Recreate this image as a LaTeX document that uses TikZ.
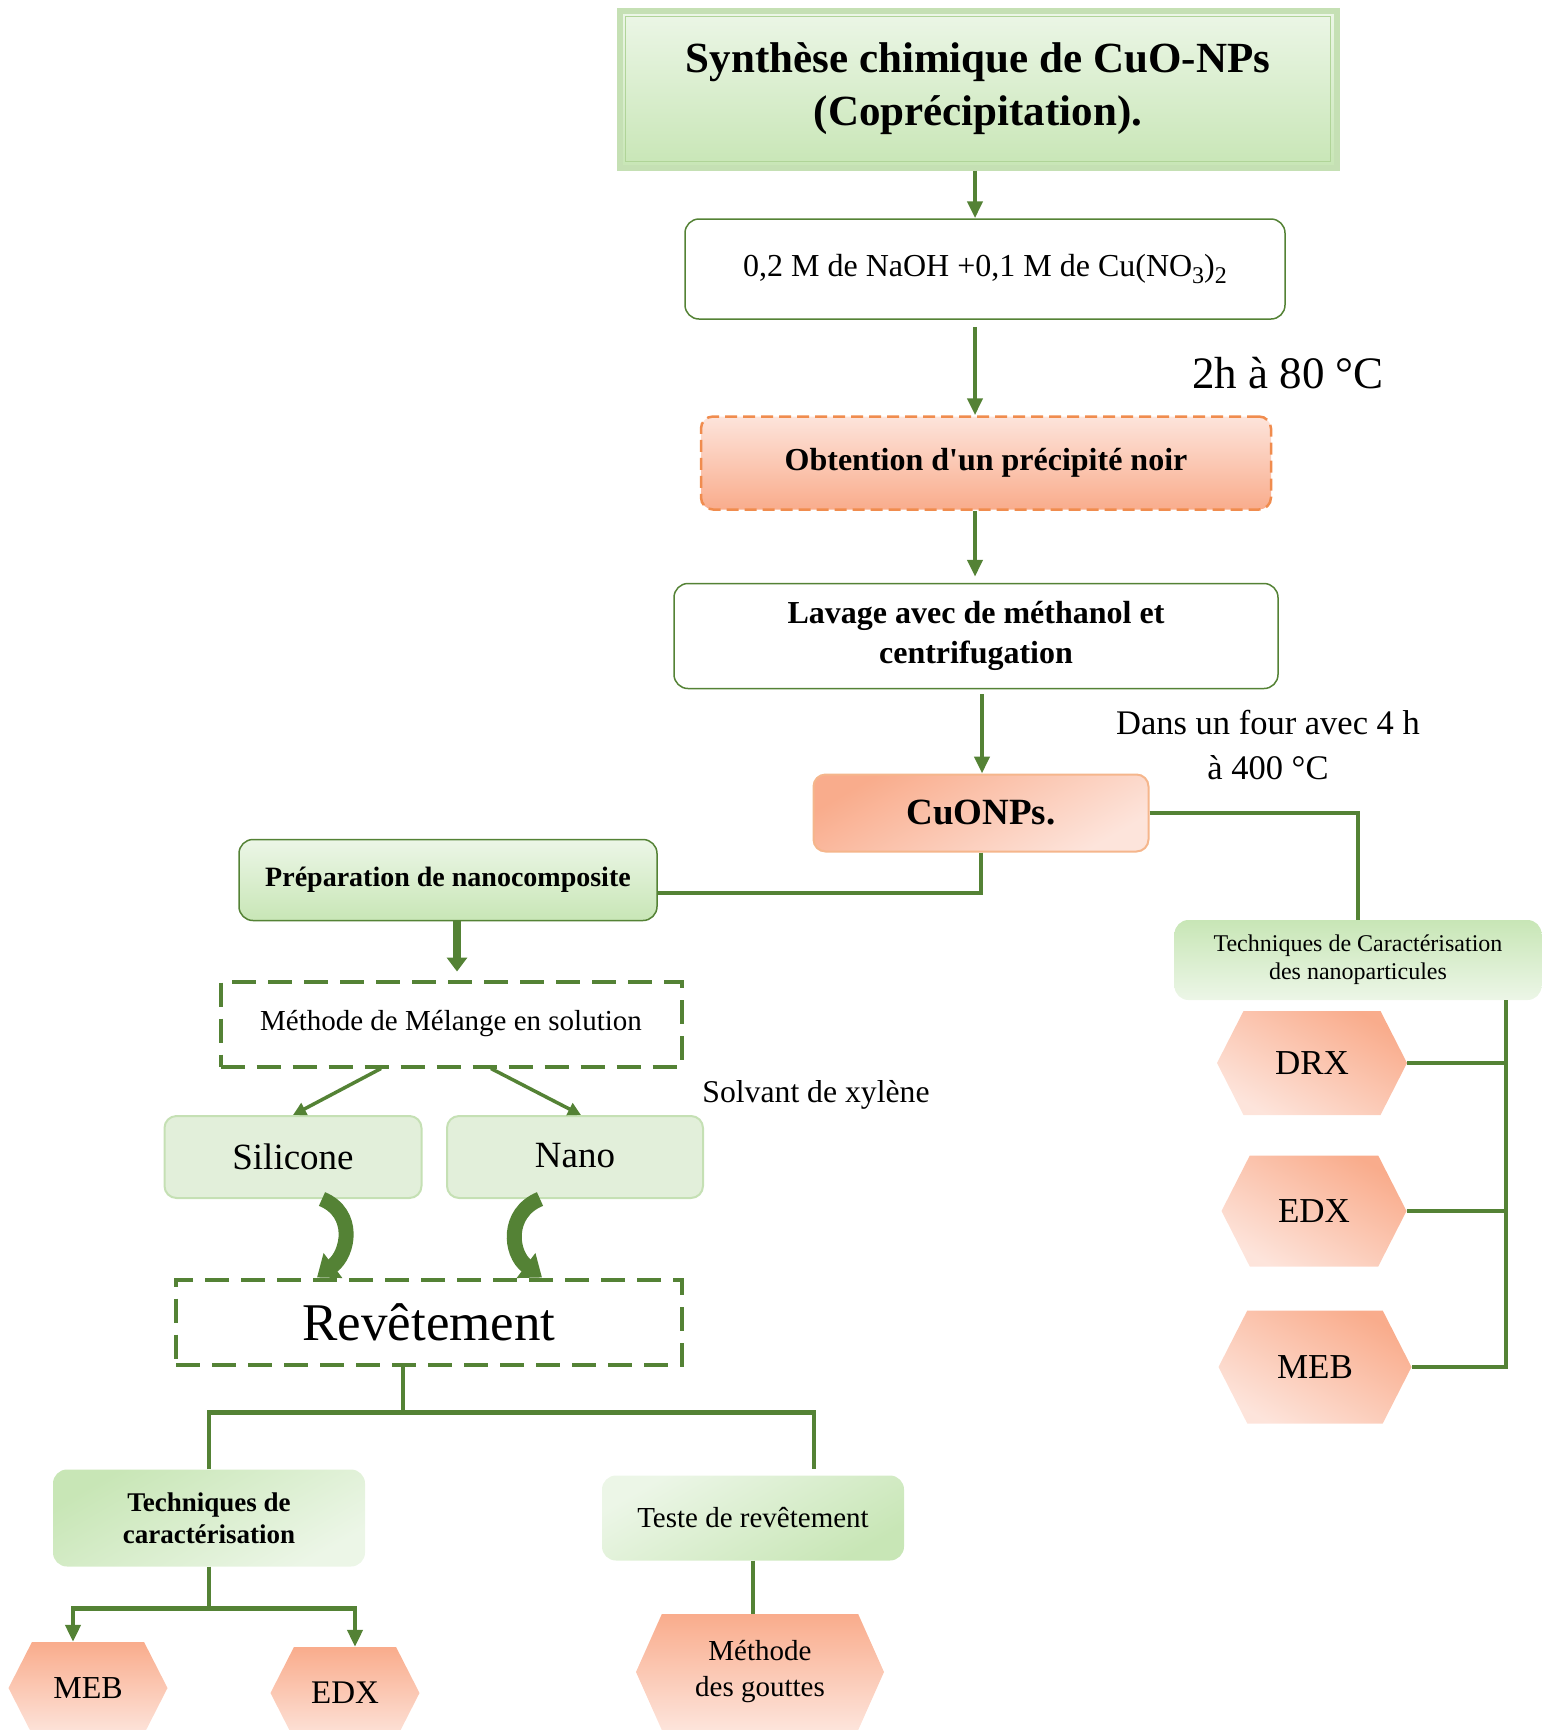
\documentclass[tikz,border=0pt]{standalone}
\usepackage{fontspec}
\setmainfont{Liberation Serif}
\usetikzlibrary{arrows.meta,positioning,shapes.symbols}

\definecolor{grn}{RGB}{84,130,53}
\definecolor{gB}{RGB}{197,224,180}
\definecolor{gB2}{RGB}{176,212,152}
\definecolor{gD}{RGB}{200,230,182}
\definecolor{gL}{RGB}{236,246,231}
\definecolor{gS}{RGB}{226,239,218}
\definecolor{oD}{RGB}{249,172,140}
\definecolor{oL}{RGB}{253,228,219}
\definecolor{oB}{RGB}{240,140,78}
\definecolor{oB2}{RGB}{245,182,140}

\begin{document}
\begin{tikzpicture}[x=1pt, y=-1pt,
  every node/.style={inner sep=0pt, align=center},
  line/.style={draw=grn, line width=4.5pt},
  arr/.style={line, -{Triangle[width=15pt,length=17pt]}},
  thinarr/.style={draw=grn, line width=3.5pt, -{Triangle[width=13pt,length=13pt]}},
  curly/.style={draw=grn, line width=15pt, -{Triangle[width=30pt,length=20pt]}},
  wbox/.style={draw=grn, line width=1.5pt, rounded corners=14pt, fill=white},
  gbox/.style={rounded corners=14pt, top color=gL, bottom color=gD},
  obox/.style={rounded corners=12pt, top color=oL, bottom color=oD},
  dbox/.style={draw=grn, line width=4pt, dash pattern=on 24pt off 12pt},
  hexa/.style={signal, signal to=west and east, signal pointer angle=126,
               top color=oD, bottom color=oL, shading angle=-30},
]
\useasboundingbox (0,0) rectangle (1542,1730);

% synthese
\node[minimum width=717, minimum height=157, top color=gL, bottom color=gD,
      draw=gB, line width=6pt, font=\bfseries\fontsize{43}{53}\selectfont]
  (title) at (978,89) {Synthèse chimique de CuO-NPs\\(Coprécipitation).};
\draw[gB2, line width=1.5pt] ([shift={(9,9)}]title.north west)
  rectangle ([shift={(-9,-9)}]title.south east);

\node[wbox, minimum width=600, minimum height=100,
      font=\fontsize{32}{38}\selectfont]
  (sol) at (985,269) {0,2 M de NaOH +0,1 M de Cu(NO\raisebox{-7pt}{\fontsize{24}{24}\selectfont 3})\raisebox{-7pt}{\fontsize{24}{24}\selectfont 2}};
\node[font=\fontsize{45}{54}\selectfont] (t80) at (1288,373) {2h à 80 °C};

\node[obox, draw=oB, line width=2.5pt, dash pattern=on 12pt off 6pt,
      minimum width=570, minimum height=93,
      font=\bfseries\fontsize{32}{38}\selectfont]
  (prec) at (986,463) {Obtention d\textquotesingle un précipité noir};

\node[wbox, minimum width=604, minimum height=105,
      font=\bfseries\fontsize{32}{40}\selectfont]
  (lav) at (976,636) {Lavage avec de méthanol et\\centrifugation};

\node[font=\fontsize{34.5}{45}\selectfont] (four) at (1268,745)
  {Dans un four avec 4 h\\à 400 °C};

\node[rounded corners=12pt, draw=oB2, line width=2pt, top color=oD, bottom color=oL,
      shading angle=30, minimum width=335, minimum height=77,
      font=\bfseries\fontsize{37}{44}\selectfont]
  (cuo) at (981,813) {CuONPs.};

\coordinate (ax) at (975,0);
\draw[arr] (ax |- title.south) -- (ax |- sol.north);
\draw[arr, shorten <=7pt] (ax |- sol.south) -- (ax |- prec.north);
\draw[arr, shorten >=6pt] (ax |- prec.south) -- (ax |- lav.north);
\draw[arr, shorten <=5pt] ([xshift=6]lav.south) -- ([xshift=1]cuo.north);

% caracterisation des nanoparticules
\node[gbox, top color=gD, bottom color=gL, minimum width=367, minimum height=80,
      font=\fontsize{24}{28}\selectfont]
  (tnp) at (1358,960) {Techniques de Caractérisation\\des nanoparticules};
\node[hexa, minimum width=190, minimum height=104, font=\fontsize{35}{42}\selectfont]
  (drx) at (1312,1063) {DRX};
\node[hexa, minimum width=185, minimum height=111, font=\fontsize{35}{42}\selectfont]
  (edx2) at (1314,1211) {EDX};
\node[hexa, minimum width=193, minimum height=113, font=\fontsize{35}{42}\selectfont]
  (meb2) at (1315,1367) {MEB};
\coordinate (rb) at (1506,1000);

\draw[line] (cuo.east) -| (tnp.north);
\draw[line] (rb) |- (meb2.east);
\draw[line] (drx.east) -- (drx.east -| rb);
\draw[line] (edx2.east) -- (edx2.east -| rb);

% nanocomposite
\node[gbox, draw=grn, line width=1.5pt, minimum width=418, minimum height=81,
      font=\bfseries\fontsize{28}{34}\selectfont]
  (prep) at (448,880) {Préparation de nanocomposite};
\draw[line] (cuo.south) |- ([yshift=-13]prep.east);

\node[dbox, minimum width=461, minimum height=85, font=\fontsize{29}{35}\selectfont]
  (mel) at (451,1024) {Méthode de Mélange en solution};
\draw[draw=grn, line width=8pt, -{Triangle[width=20pt,length=14pt]}, shorten >=8pt]
  ([xshift=9]prep.south) -- ([xshift=6]mel.north);

\node[font=\fontsize{31.7}{38}\selectfont] (xyl) at (816,1095) {Solvant de xylène};

\node[rounded corners=12pt, fill=gS, draw=gB, line width=2pt,
      minimum width=257, minimum height=82, font=\fontsize{37}{44}\selectfont]
  (sil) at (293,1157) {Silicone};
\node[rounded corners=12pt, fill=gS, draw=gB, line width=2pt,
      minimum width=256, minimum height=82, font=\fontsize{37}{44}\selectfont]
  (nano) at (575,1157) {\raisebox{4pt}{Nano}};

\draw[thinarr] ([xshift=-70]mel.south) -- (sil.north);
\draw[thinarr] ([xshift=40]mel.south) -- ([xshift=6]nano.north);

\node[dbox, minimum width=506, minimum height=85, font=\fontsize{53}{60}\selectfont]
  (rev) at (429,1322) {Revêtement};

\draw[curly] ([xshift=29]sil.south) .. controls +(34,14) and +(32,-24)
  .. ([xshift=-112]rev.north);
\draw[curly] ([xshift=-35]nano.south) .. controls +(-34,14) and +(-32,-24)
  .. ([xshift=113]rev.north);

% revetement : caracterisation et teste
\node[gbox, top color=gD, bottom color=gL, shading angle=30,
      minimum width=312, minimum height=97,
      font=\bfseries\fontsize{27}{32}\selectfont]
  (tc) at (209,1518) {Techniques de\\caractérisation};
\node[gbox, top color=gL, bottom color=gD, shading angle=30,
      minimum width=302, minimum height=85, font=\fontsize{29}{35}\selectfont]
  (tst) at (753,1518) {Teste de revêtement};

\draw[line] ([xshift=-26]rev.south) -- ++(0,46) coordinate (rj);
\draw[line] (tc.north) |- (rj) -| ([xshift=61,yshift=6]tst.north);

\node[hexa, signal pointer angle=132, top color=oD, bottom color=oL, shading angle=0,
      minimum width=248, minimum height=116, font=\fontsize{29}{36}\selectfont]
  (goutte) at (760,1672) {Méthode\\des gouttes};
\draw[line] (tst.south) -- (tst.south |- goutte.north);

\node[hexa, signal pointer angle=126, shading angle=0,
      minimum width=159, minimum height=92, font=\fontsize{32}{38}\selectfont]
  (meb) at (88,1688) {MEB};
\node[hexa, signal pointer angle=126, shading angle=0,
      minimum width=149, minimum height=92, font=\fontsize{33}{38}\selectfont]
  (edx) at (345,1693) {EDX};

\draw[line] (tc.south) -- ++(0,42) coordinate (tj);
\draw[arr] (tj) -| ([xshift=-15]meb.north);
\draw[arr] (tj) -| ([xshift=10]edx.north);
\end{tikzpicture}
\end{document}
